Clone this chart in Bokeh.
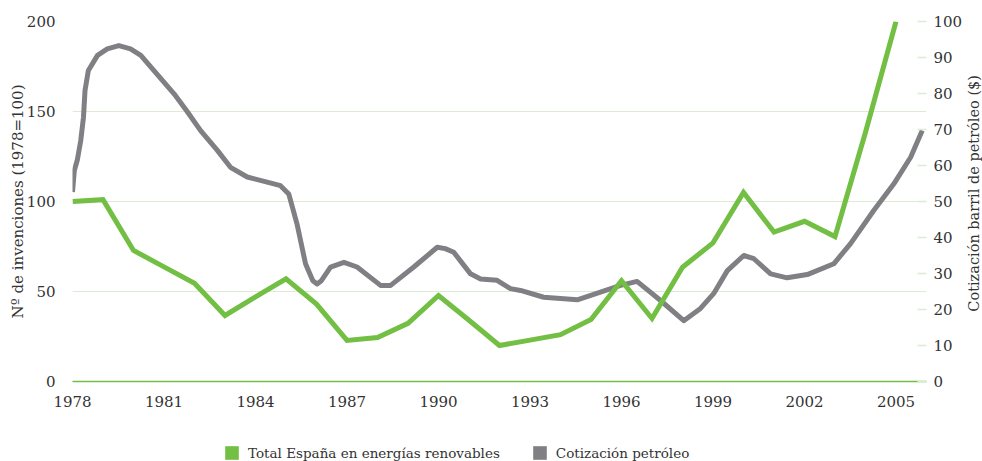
import math
from bokeh.plotting import figure
from bokeh.layouts import column, row
from bokeh.models import (Range1d, LinearAxis, FixedTicker, Legend, LegendItem,
                          ColumnDataSource, Label)
from bokeh.embed import file_html
from bokeh.resources import INLINE

# ---- data -------------------------------------------------------------
years_ren = [1978, 1979, 1980, 1981, 1982, 1983, 1984, 1985, 1986, 1987,
             1988, 1989, 1990, 1991, 1992, 1993, 1994, 1995, 1996, 1997,
             1998, 1999, 2000, 2001, 2002, 2003, 2004, 2005]
renovables = [100, 101, 72.8, 63.7, 54.6, 36.7, 47, 57, 43, 22.8,
              24.4, 32.3, 47.8, 34, 20, 23, 26, 34.4, 56, 35,
              63.5, 77, 105, 83, 89, 80.5, 138.5, 200]

oil_year = [1978.00, 1978.06, 1978.16, 1978.27, 1978.36, 1978.41, 1978.52, 1978.82,
            1979.14, 1979.52, 1979.90, 1980.24, 1980.89, 1981.33, 1981.76, 1982.20,
            1982.75, 1983.18, 1983.73, 1984.38, 1984.82, 1985.09, 1985.36, 1985.64,
            1985.88, 1986.02, 1986.16, 1986.46, 1986.90, 1987.33, 1988.10, 1988.43,
            1989.19, 1989.96, 1990.22, 1990.50, 1991.05, 1991.38, 1991.92, 1992.36,
            1992.69, 1993.45, 1994.55, 1995.31, 1995.97, 1996.51, 1997.28, 1998.04,
            1998.59, 1999.02, 1999.47, 2000.01, 2000.34, 2000.89, 2001.43, 2002.09,
            2002.96, 2003.51, 2004.27, 2004.93, 2005.48, 2005.86]
oil_price = [52.6, 58.6, 61.6, 66.9, 73.4, 80.8, 86.4, 90.6,
             92.4, 93.3, 92.4, 90.6, 84.2, 79.9, 75.0, 69.7,
             64.2, 59.5, 56.8, 55.4, 54.4, 52.1, 43.8, 32.7,
             28.0, 27.1, 28.0, 31.8, 33.1, 31.8, 26.7, 26.7,
             31.8, 37.3, 36.9, 35.9, 29.9, 28.5, 28.1, 25.8,
             25.3, 23.4, 22.7, 24.8, 26.7, 27.8, 22.5, 16.9,
             20.3, 24.4, 30.8, 35.0, 34.1, 29.9, 28.8, 29.7,
             32.7, 38.3, 47.5, 54.9, 62.3, 69.7]

x_ticks = [1978, 1981, 1984, 1987, 1990, 1993, 1996, 1999, 2002, 2005]
left_ticks = [0, 50, 100, 150, 200]
right_ticks = [0, 10, 20, 30, 40, 50, 60, 70, 80, 90, 100]

series_names = ["Total España en energías renovables", "Cotización petróleo"]
left_title = "Nº de invenciones (1978=100)"
right_title = "Cotización barril de petróleo ($)"

GREEN = "#72bf44"
GRAY = "#808084"
GRID = "#dcecd2"
TEXT = "#333333"
FONT = "DejaVu Serif"

MAIN_W, MAIN_H, SIDE_W, LEG_H = 965, 421, 17, 40

# ---- main figure ------------------------------------------------------
p = figure(width=MAIN_W, height=MAIN_H, output_backend="svg", toolbar_location=None,
           x_range=Range1d(1978, 2006), y_range=Range1d(0, 200),
           min_border_left=72, min_border_top=21, min_border_bottom=40, min_border_right=0)
p.extra_y_ranges = {"oil": Range1d(0, 100)}
p.outline_line_color = None
p.background_fill_color = "white"
p.border_fill_color = "white"

p.xgrid.grid_line_color = None
p.ygrid.grid_line_color = GRID
p.ygrid.grid_line_width = 1.2
p.ygrid.ticker = FixedTicker(ticks=left_ticks)

# x axis
xa = p.xaxis[0]
xa.ticker = FixedTicker(ticks=x_ticks)
xa.axis_line_color = GREEN
xa.axis_line_width = 1.5
xa.major_tick_line_color = None
xa.minor_tick_line_color = None
xa.major_label_standoff = 8
xa.major_label_text_font = FONT
xa.major_label_text_font_size = "15px"
xa.major_label_text_color = TEXT

# left axis
ya = p.yaxis[0]
ya.ticker = FixedTicker(ticks=left_ticks)
ya.axis_line_color = None
ya.major_tick_line_color = None
ya.minor_tick_line_color = None
ya.major_label_standoff = 11
ya.major_label_text_font = FONT
ya.major_label_text_font_size = "15px"
ya.major_label_text_color = TEXT
ya.axis_label = left_title
ya.axis_label_text_font = FONT
ya.axis_label_text_font_size = "15px"
ya.axis_label_text_font_style = "normal"
ya.axis_label_text_color = TEXT
ya.axis_label_standoff = -3

# right axis (its title is drawn in the narrow strip to the right)
ra = LinearAxis(y_range_name="oil", ticker=FixedTicker(ticks=right_ticks))
ra.axis_line_color = None
ra.major_tick_in = 9
ra.major_tick_out = 0
ra.major_tick_line_color = GRID
ra.major_tick_line_width = 1.5
ra.minor_tick_line_color = None
ra.major_label_standoff = 7
ra.major_label_text_font = FONT
ra.major_label_text_font_size = "15px"
ra.major_label_text_color = TEXT
p.add_layout(ra, "right")

# ---- series -----------------------------------------------------------
src_ren = ColumnDataSource(dict(x=years_ren, y=renovables))
src_oil = ColumnDataSource(dict(x=oil_year, y=oil_price))

p.line("x", "y", source=src_oil, y_range_name="oil", line_color=GRAY,
       line_width=5, line_join="round", line_cap="butt")
p.line("x", "y", source=src_ren, line_color=GREEN, line_width=5,
       line_join="miter", line_cap="butt")

# ---- right title strip ------------------------------------------------
side = figure(width=SIDE_W, height=MAIN_H, output_backend="svg", toolbar_location=None,
              x_axis_type=None, y_axis_type=None,
              x_range=Range1d(0, SIDE_W), y_range=Range1d(0, MAIN_H),
              min_border_left=0, min_border_right=0, min_border_top=0, min_border_bottom=0)
side.outline_line_color = None
side.grid.grid_line_color = None
side.background_fill_color = "white"
side.border_fill_color = "white"
side.add_layout(Label(x=SIDE_W / 2, y=MAIN_H - 201, text=right_title, angle=math.pi / 2,
                      text_align="center", text_baseline="middle",
                      text_font=FONT, text_font_size="14.5px", text_color=TEXT))

# ---- legend strip -----------------------------------------------------
lg = figure(width=MAIN_W + SIDE_W, height=LEG_H, output_backend="svg", toolbar_location=None,
            x_axis_type=None, y_axis_type=None,
            x_range=Range1d(0, 1), y_range=Range1d(0, 1),
            min_border_left=0, min_border_right=0, min_border_top=0, min_border_bottom=0)
lg.outline_line_color = None
lg.grid.grid_line_color = None
lg.background_fill_color = "white"
lg.border_fill_color = "white"

nan = float("nan")
swatch = dict(left=[nan], right=[nan], top=[nan], bottom=[nan])
sw_g = lg.quad(source=ColumnDataSource(swatch), left="left", right="right", top="top",
               bottom="bottom", fill_color=GREEN, line_color=None)
sw_k = lg.quad(source=ColumnDataSource(dict(swatch)), left="left", right="right", top="top",
               bottom="bottom", fill_color=GRAY, line_color=None)

legend = Legend(items=[LegendItem(label=series_names[0], renderers=[sw_g], index=0),
                       LegendItem(label=series_names[1], renderers=[sw_k], index=0)],
                orientation="horizontal", location=(223, 0),
                glyph_width=17, glyph_height=17, label_height=17,
                label_standoff=8, spacing=31, padding=0, margin=0,
                border_line_color=None, background_fill_alpha=0,
                label_text_font=FONT, label_text_font_size="13.5px",
                label_text_color=TEXT)
lg.add_layout(legend, "center")

layout = column(row(p, side, spacing=0), lg, spacing=0)
open("out.html", "w").write(file_html(layout, INLINE))
